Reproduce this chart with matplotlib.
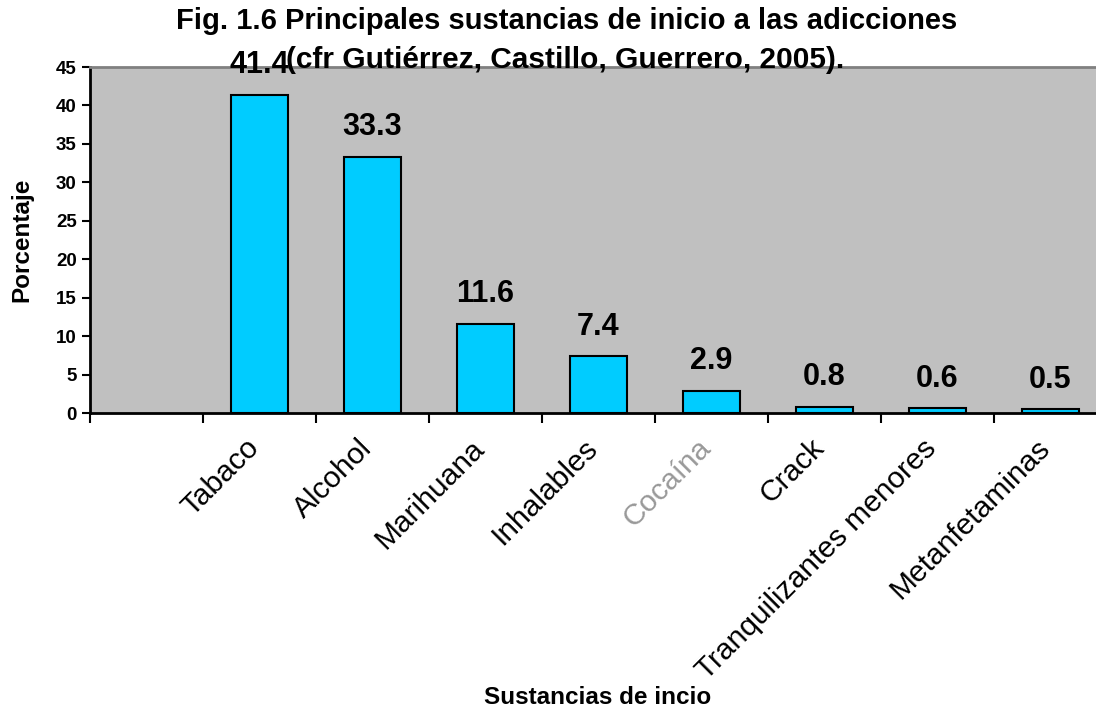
import matplotlib.pyplot as plt
import matplotlib.transforms as mtransforms
import numpy as np

plt.rcParams['font.family'] = ['Liberation Sans', 'DejaVu Sans']

categories = ["Tabaco", "Alcohol", "Marihuana", "Inhalables", "Cocaína",
              "Crack", "Tranquilizantes menores", "Metanfetaminas"]
values = [41.4, 33.3, 11.6, 7.4, 2.9, 0.8, 0.6, 0.5]
yticks = [0, 5, 10, 15, 20, 25, 30, 35, 40, 45]

W, H = 1096, 713
fig = plt.figure(figsize=(W / 100, H / 100), dpi=100)
# plot area runs past the right edge of the image, like the source
left, right, top, bottom = 90, 1107, 67, 413
ax = fig.add_axes((left / W, 1 - bottom / H, (right - left) / W, (bottom - top) / H))
ax.set_facecolor('#C0C0C0')

x = np.arange(len(categories))
ax.bar(x, values, 0.5, color='#00CCFF', edgecolor='black', linewidth=1.5, zorder=3)

for xi, v in zip(x, values):
    ax.annotate(f"{v}", (xi, v), xytext=(0, 10.5), textcoords='offset points',
                ha='center', va='bottom', fontsize=22, fontweight='bold')

ax.set_xlim(-1.5, len(categories) - 0.5)
ax.set_ylim(0, 45)
ax.set_yticks(yticks)
ax.tick_params(axis='y', labelsize=13.5, width=1.5, length=6, direction='out')
for lab in ax.get_yticklabels():
    lab.set_fontweight('bold')

ax.set_xticks(np.arange(-1.5, len(categories), 1.0), minor=True)
ax.set_xticks(x)
ax.set_xticklabels(categories, rotation=45, ha='right', rotation_mode='anchor',
                   fontsize=21.5)
ax.tick_params(axis='x', which='major', length=0, pad=15)
ax.tick_params(axis='x', which='minor', length=7, width=1.5, direction='out')
shift = mtransforms.ScaledTranslation(-0.15, 0, fig.dpi_scale_trans)
for lab in ax.get_xticklabels():
    lab.set_transform(lab.get_transform() + shift)
ax.get_xticklabels()[4].set_color('#999999')

for s in ['left', 'bottom']:
    ax.spines[s].set_linewidth(2)
ax.spines['top'].set_color('#808080')
ax.spines['top'].set_linewidth(2)
ax.spines['right'].set_visible(False)

fig.text(22 / W, 1 - 240 / H, "Porcentaje", rotation=90, ha='center',
         va='center', fontsize=17.5, fontweight='bold')
fig.text(598 / W, 1 - 697 / H, "Sustancias de incio", ha='center', va='center',
         fontsize=17.5, fontweight='bold')
fig.text(567 / W, 1 - 21 / H, "Fig. 1.6 Principales sustancias de inicio a las adicciones",
         ha='center', va='center', fontsize=21, fontweight='bold')
fig.text(565 / W, 1 - 60 / H, "(cfr Gutiérrez, Castillo, Guerrero, 2005).",
         ha='center', va='center', fontsize=21.5, fontweight='bold')

fig.savefig('out.png', dpi=100)
